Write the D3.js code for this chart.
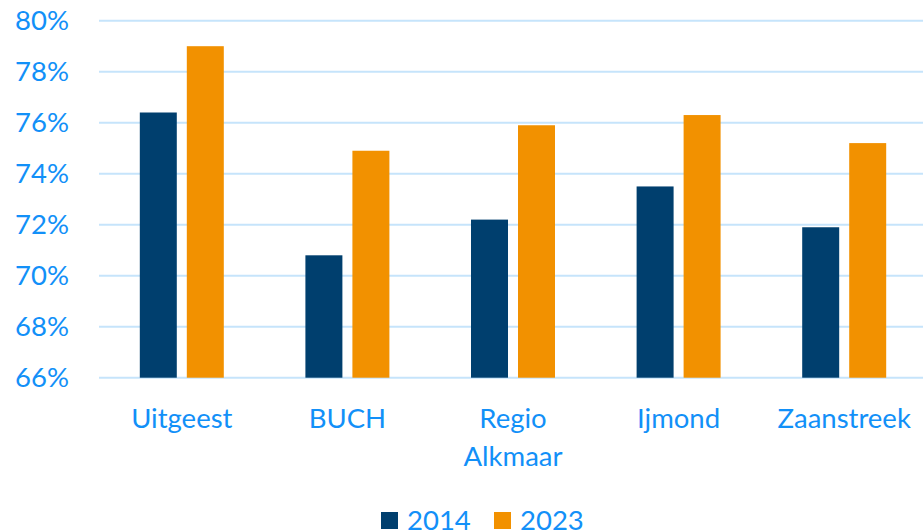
<!DOCTYPE html>
<html>
<head>
<meta charset="utf-8">
<script src="https://cdn.jsdelivr.net/npm/d3@7"></script>
<style>
  body { margin: 0; background: #fff; }
  text { font-family: Lato, "Open Sans", sans-serif; fill: #1290f8; }
</style>
</head>
<body>
<svg id="chart" width="923" height="532"></svg>
<script>
// regions and series
const regions = [["Uitgeest"], ["BUCH"], ["Regio", "Alkmaar"], ["Ijmond"], ["Zaanstreek"]];
const years = ["2014", "2023"];
const values2014 = [76.4, 70.8, 72.2, 73.5, 71.9];
const values2023 = [79.0, 74.9, 75.9, 76.3, 75.2];
const yTicks = [66, 68, 70, 72, 74, 76, 78, 80];
const colors = { "2014": "#003f6e", "2023": "#f29100" };

const svg = d3.select('#chart');
const names = regions.map(r => r.join(' '));

// build rows for drawing
let data = names.map((n, i) => ({ name: n, lines: regions[i], v: { "2014": values2014[i], "2023": values2023[i] } }));

// scales
const x0 = d3.scaleBand().domain(names).range([99, 927]).paddingInner(0.4928).paddingOuter(0.2464);
const x1 = d3.scaleBand().domain(years).range([0, x0.bandwidth()]).paddingInner(0.213);
const y = d3.scaleLinear().domain([66, 80]).range([377.7, 20.7]);

// gridlines
svg.append('g').selectAll('line').data(yTicks)
    .join('line')
    .attr('x1', 99).attr('x2', 923)
    .attr('y1', d => y(d)).attr('y2', d => y(d))
    .attr('stroke', '#c6e4fb').attr('stroke-width', 2);

// y axis labels
let yAxis = d3.axisLeft(y).tickValues(yTicks).tickFormat(d => d + '%').tickSize(0).tickPadding(0);
let yg = svg.append('g').attr('transform', 'translate(69,0)').call(yAxis);
yg.select('.domain').remove();
yg.selectAll('text').attr('font-size', 27.5).attr('font-family', 'Lato, sans-serif').attr('fill', '#1290f8');

// bars
let groups = svg.append('g').selectAll('g').data(data)
    .join('g')
    .attr('transform', d => 'translate(' + x0(d.name) + ',0)');

groups.selectAll('rect').data(d => years.map(yr => ({ yr: yr, val: d.v[yr] })))
    .join('rect')
    .attr('x', d => x1(d.yr))
    .attr('y', d => y(d.val))
    .attr('width', x1.bandwidth())
    .attr('height', d => y(66) - y(d.val))
    .attr('fill', d => colors[d.yr]);

// category labels
let cats = svg.append('g').selectAll('text').data(data)
    .join('text')
    .attr('x', d => x0(d.name) + x0.bandwidth() / 2)
    .attr('y', 428)
    .attr('text-anchor', 'middle')
    .attr('font-size', 27.5);
cats.selectAll('tspan').data(d => d.lines)
    .join('tspan')
    .attr('x', function () { return d3.select(this.parentNode).attr('x'); })
    .attr('dy', (d, i) => i === 0 ? 0 : 38)
    .text(d => d);

// legend
const legendX = [381, 494];
let legend = svg.append('g').selectAll('g').data(years)
    .join('g')
    .attr('transform', (d, i) => 'translate(' + legendX[i] + ',512)');
legend.append('rect').attr('width', 17).attr('height', 17).attr('fill', d => colors[d]);
legend.append('text').attr('x', 26).attr('y', 18).attr('font-size', 27.5).text(d => d);
</script>
</body>
</html>
